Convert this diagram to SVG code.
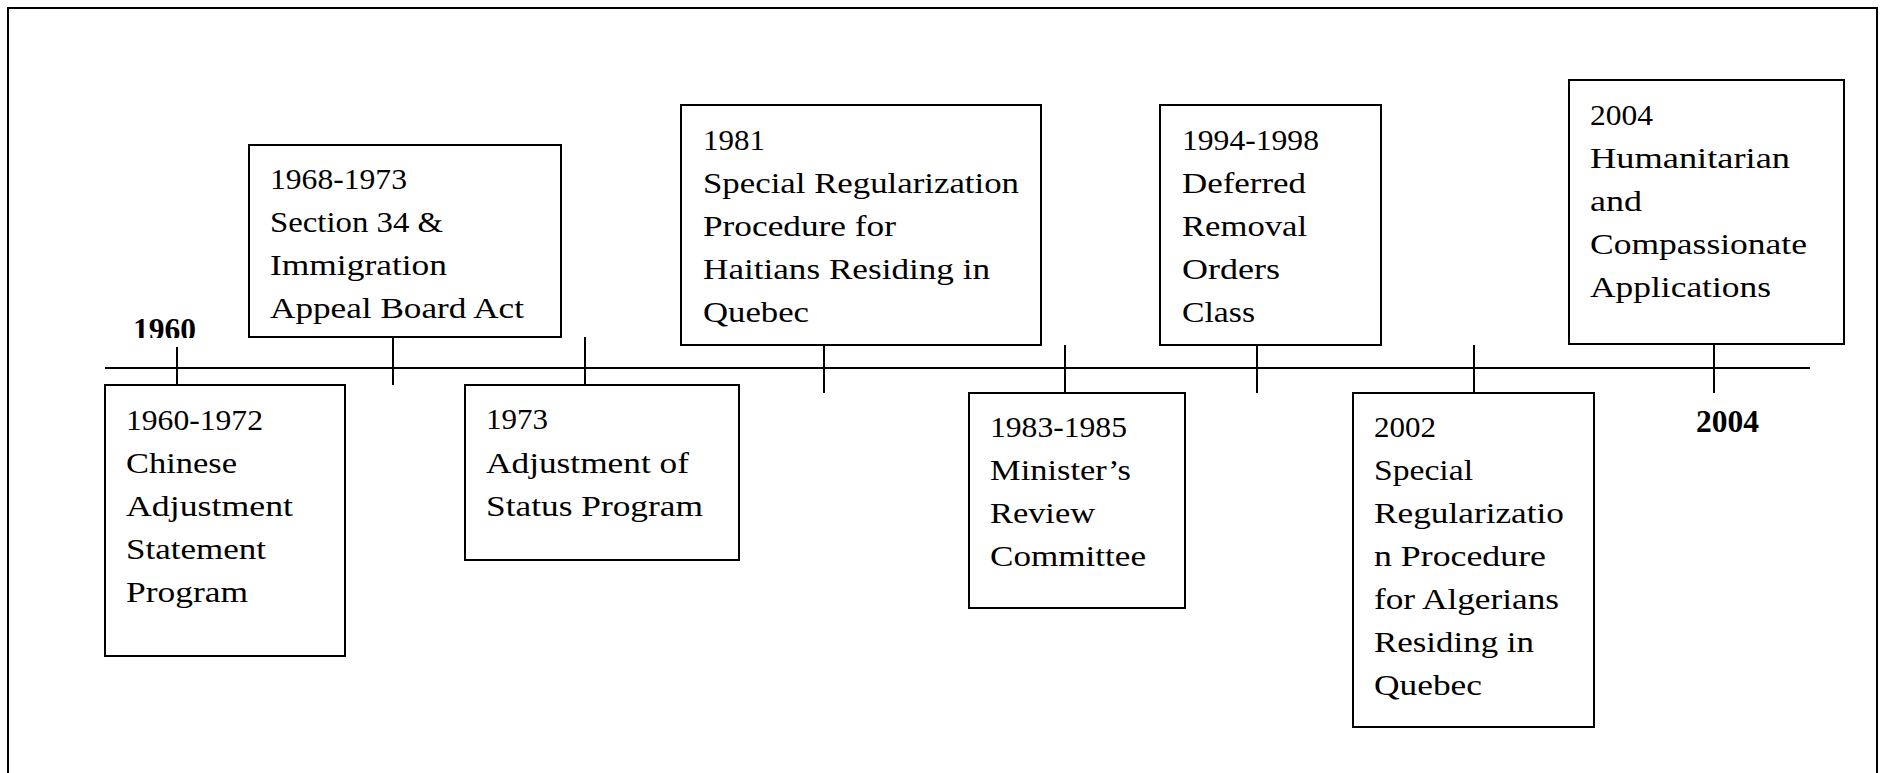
<svg xmlns="http://www.w3.org/2000/svg" width="1887" height="773" viewBox="0 0 1887 773">
<defs>
<style>
.box{fill:#fff;stroke:#000;stroke-width:2}
.ln{stroke:#000;stroke-width:2;fill:none}
.t{font-family:"Liberation Serif","Times New Roman",serif;font-size:30px;fill:#000}
.b{font-family:"Liberation Serif","Times New Roman",serif;font-size:31px;font-weight:bold;fill:#000}
</style>
<clipPath id="clip1960"><rect x="110" y="295" width="110" height="43"/></clipPath>
</defs>
<rect x="0" y="0" width="1887" height="773" fill="#fff"/>
<rect x="8" y="8" width="1869" height="800" fill="none" stroke="#000" stroke-width="2"/>
<g id="connectors">
<line class="ln" x1="105" y1="368" x2="1810" y2="368"/>
<line class="ln" x1="177" y1="347" x2="177" y2="385"/>
<line class="ln" x1="393" y1="337" x2="393" y2="385"/>
<line class="ln" x1="585" y1="337" x2="585" y2="385"/>
<line class="ln" x1="824" y1="345" x2="824" y2="393"/>
<line class="ln" x1="1065" y1="345" x2="1065" y2="393"/>
<line class="ln" x1="1257" y1="345" x2="1257" y2="393"/>
<line class="ln" x1="1474" y1="345" x2="1474" y2="393"/>
<line class="ln" x1="1714" y1="344" x2="1714" y2="393"/>
</g>
<g id="label-1960"><text class="b" x="133" y="340" textLength="63" lengthAdjust="spacingAndGlyphs" clip-path="url(#clip1960)">1960</text></g>
<g id="label-2004"><text class="b" x="1696" y="432" textLength="63" lengthAdjust="spacingAndGlyphs">2004</text></g>
<g id="node-1960-1972">
<rect class="box" x="105" y="385" width="240" height="271"/>
<text class="t" x="126" y="430" textLength="137" lengthAdjust="spacingAndGlyphs">1960-1972</text>
<text class="t" x="126" y="473" textLength="111" lengthAdjust="spacingAndGlyphs">Chinese</text>
<text class="t" x="126" y="516" textLength="167" lengthAdjust="spacingAndGlyphs">Adjustment</text>
<text class="t" x="126" y="559" textLength="140" lengthAdjust="spacingAndGlyphs">Statement</text>
<text class="t" x="126" y="602" textLength="122" lengthAdjust="spacingAndGlyphs">Program</text>
</g>
<g id="node-1968-1973">
<rect class="box" x="249" y="145" width="312" height="192"/>
<text class="t" x="270" y="189" textLength="137" lengthAdjust="spacingAndGlyphs">1968-1973</text>
<text class="t" x="270" y="232" textLength="173" lengthAdjust="spacingAndGlyphs">Section 34 &amp;</text>
<text class="t" x="270" y="275" textLength="177" lengthAdjust="spacingAndGlyphs">Immigration</text>
<text class="t" x="270" y="318" textLength="254" lengthAdjust="spacingAndGlyphs">Appeal Board Act</text>
</g>
<g id="node-1973">
<rect class="box" x="465" y="385" width="274" height="175"/>
<text class="t" x="486" y="429" textLength="62" lengthAdjust="spacingAndGlyphs">1973</text>
<text class="t" x="486" y="473" textLength="203" lengthAdjust="spacingAndGlyphs">Adjustment of</text>
<text class="t" x="486" y="516" textLength="217" lengthAdjust="spacingAndGlyphs">Status Program</text>
</g>
<g id="node-1981">
<rect class="box" x="681" y="105" width="360" height="240"/>
<text class="t" x="703" y="150" textLength="62" lengthAdjust="spacingAndGlyphs">1981</text>
<text class="t" x="703" y="193" textLength="316" lengthAdjust="spacingAndGlyphs">Special Regularization</text>
<text class="t" x="703" y="236" textLength="193" lengthAdjust="spacingAndGlyphs">Procedure for</text>
<text class="t" x="703" y="279" textLength="287" lengthAdjust="spacingAndGlyphs">Haitians Residing in</text>
<text class="t" x="703" y="322" textLength="106" lengthAdjust="spacingAndGlyphs">Quebec</text>
</g>
<g id="node-1983-1985">
<rect class="box" x="969" y="393" width="216" height="215"/>
<text class="t" x="990" y="437" textLength="137" lengthAdjust="spacingAndGlyphs">1983-1985</text>
<text class="t" x="990" y="480" textLength="141" lengthAdjust="spacingAndGlyphs">Minister’s</text>
<text class="t" x="990" y="523" textLength="105" lengthAdjust="spacingAndGlyphs">Review</text>
<text class="t" x="990" y="566" textLength="156" lengthAdjust="spacingAndGlyphs">Committee</text>
</g>
<g id="node-1994-1998">
<rect class="box" x="1160" y="105" width="221" height="240"/>
<text class="t" x="1182" y="150" textLength="137" lengthAdjust="spacingAndGlyphs">1994-1998</text>
<text class="t" x="1182" y="193" textLength="124" lengthAdjust="spacingAndGlyphs">Deferred</text>
<text class="t" x="1182" y="236" textLength="125" lengthAdjust="spacingAndGlyphs">Removal</text>
<text class="t" x="1182" y="279" textLength="98" lengthAdjust="spacingAndGlyphs">Orders</text>
<text class="t" x="1182" y="322" textLength="73" lengthAdjust="spacingAndGlyphs">Class</text>
</g>
<g id="node-2002">
<rect class="box" x="1353" y="393" width="241" height="334"/>
<text class="t" x="1374" y="437" textLength="62" lengthAdjust="spacingAndGlyphs">2002</text>
<text class="t" x="1374" y="480" textLength="99" lengthAdjust="spacingAndGlyphs">Special</text>
<text class="t" x="1374" y="523" textLength="190" lengthAdjust="spacingAndGlyphs">Regularizatio</text>
<text class="t" x="1374" y="566" textLength="172" lengthAdjust="spacingAndGlyphs">n Procedure</text>
<text class="t" x="1374" y="609" textLength="185" lengthAdjust="spacingAndGlyphs">for Algerians</text>
<text class="t" x="1374" y="652" textLength="160" lengthAdjust="spacingAndGlyphs">Residing in</text>
<text class="t" x="1374" y="695" textLength="108" lengthAdjust="spacingAndGlyphs">Quebec</text>
</g>
<g id="node-2004">
<rect class="box" x="1569" y="80" width="275" height="264"/>
<text class="t" x="1590" y="125" textLength="63" lengthAdjust="spacingAndGlyphs">2004</text>
<text class="t" x="1590" y="168" textLength="200" lengthAdjust="spacingAndGlyphs">Humanitarian</text>
<text class="t" x="1590" y="211" textLength="52" lengthAdjust="spacingAndGlyphs">and</text>
<text class="t" x="1590" y="254" textLength="217" lengthAdjust="spacingAndGlyphs">Compassionate</text>
<text class="t" x="1590" y="297" textLength="181" lengthAdjust="spacingAndGlyphs">Applications</text>
</g>
</svg>
